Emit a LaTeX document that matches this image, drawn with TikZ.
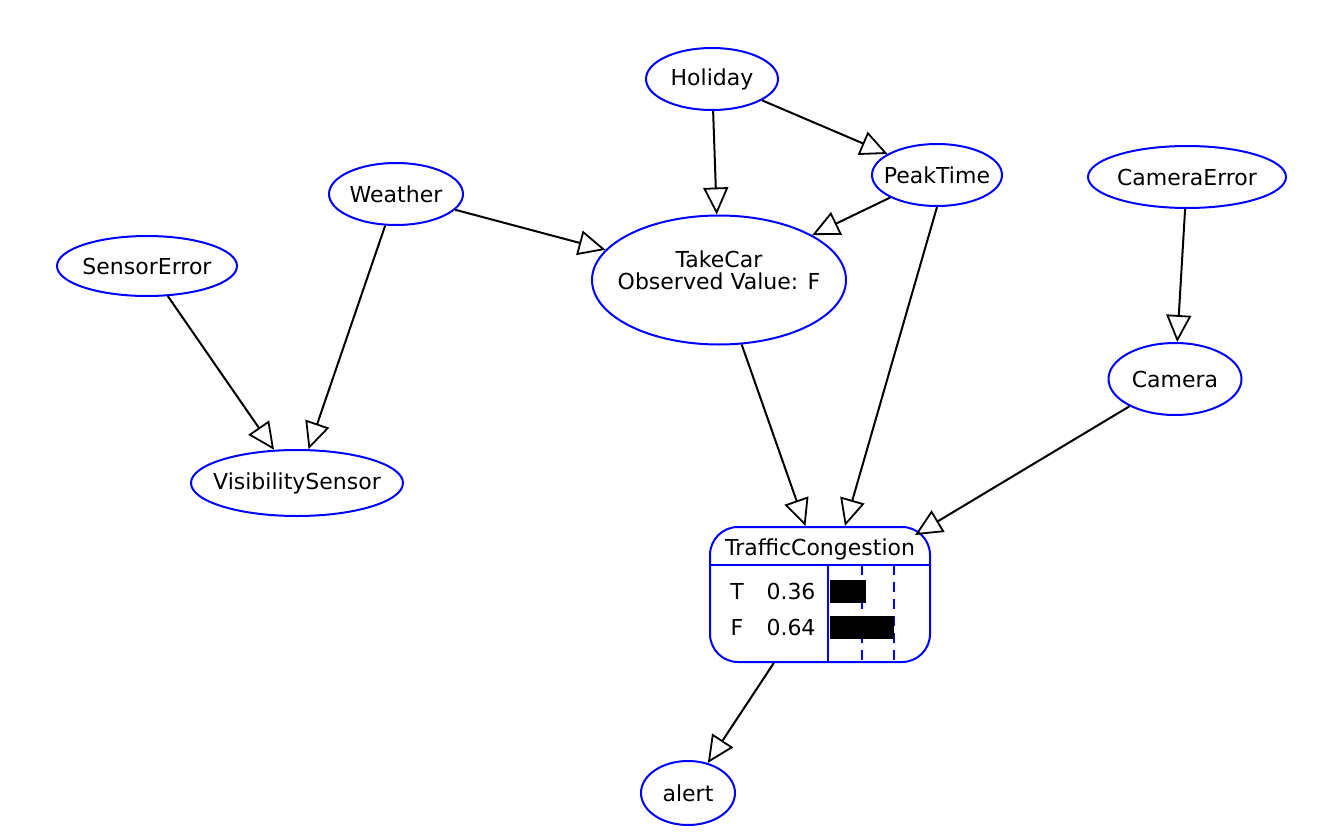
\documentclass[tikz,border=0pt]{standalone}
\usepackage{fontspec}
\setmainfont{DejaVu Sans}
\usepackage{tikz}
\usetikzlibrary{shapes.geometric, arrows.meta}

\begin{document}
\begin{tikzpicture}[x=1pt, y=-1pt,
    every node/.style={font=\fontsize{22}{24}\selectfont},
    var/.style={ellipse, draw=blue, line width=2pt, inner xsep=-15pt, inner ysep=0pt, minimum height=62pt},
    dep/.style={draw, line width=2pt, -{Triangle[open, length=27pt, width=25pt, line width=1.8pt]}}]
    \useasboundingbox (0,0) rectangle (1320,832);

    % variables
    \node[var, minimum width=132pt] (holiday) at (712,79) {Holiday};
    \node[var, minimum width=130pt] (peaktime) at (937,175) {PeakTime};
    \node[var, minimum width=198pt] (cameraerror) at (1187,177) {CameraError};
    \node[var, minimum width=134pt] (weather) at (396,194) {Weather};
    \node[var, minimum width=180pt, minimum height=60pt] (sensorerror) at (147,266) {SensorError};
    \node[var, minimum width=254pt, minimum height=129pt, align=center] (takecar) at (719,280)
        {TakeCar\\[-2pt]Observed Value: F\\[-4pt]\mbox{}};
    \node[var, minimum width=133pt, minimum height=72pt] (camera) at (1175,379) {Camera};
    \node[var, minimum width=212pt, minimum height=66pt] (visibility) at (297,483) {VisibilitySensor};
    \node[var, minimum width=94pt, minimum height=64pt] (alert) at (688,793) {alert};

    % TrafficCongestion: belief box
    \node[draw=blue, line width=2pt, rounded corners=28pt, minimum width=220pt,
        minimum height=135pt, inner sep=0pt] (tc) at (820,594.5) {};
    \node (tctitle) at (820,549) {TrafficCongestion};
    \draw[blue, line width=2pt] (710,565) -- (930,565);
    \draw[blue, line width=2pt] (828,565) -- (828,662);
    \draw[blue, line width=1.5pt, dash pattern=on 10pt off 7pt]
        (862,565) -- (862,662) (894,565) -- (894,662);
    \fill (830,580) rectangle (866,603);
    \fill (830,616) rectangle (894,639);
    \node (tstate) at (737,591) {T};
    \node (tvalue) at (791,591) {0.36};
    \node (fstate) at (737,627) {F};
    \node (fvalue) at (791,627) {0.64};
    \coordinate (tcarc) at (915,535);

    % dependencies
    \draw[dep] (holiday) -- (takecar);
    \draw[dep] (holiday) -- (peaktime);
    \draw[dep] (peaktime) -- (takecar);
    \draw[dep] (weather) -- (takecar);
    \draw[dep] (weather) -- (visibility);
    \draw[dep] (sensorerror) -- (visibility);
    \draw[dep] (takecar) -- (tc.102);
    \draw[dep] (peaktime.south) -- (tc.70);
    \draw[dep] (cameraerror) -- (camera);
    \draw[dep] (camera) -- (tcarc);
    \draw[dep] (tc.-124) -- (alert);
\end{tikzpicture}
\end{document}
